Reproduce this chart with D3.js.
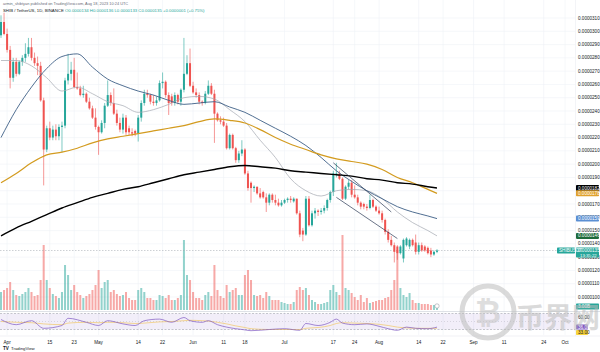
<!DOCTYPE html>
<html>
<head>
<meta charset="utf-8">
<script src="https://cdn.jsdelivr.net/npm/d3@7"></script>
<style>
  body { margin: 0; background: #fff; }
  svg { display: block; font-family: "Liberation Sans", Arial, sans-serif; }
</style>
</head>
<body>
<svg id="chart" width="600" height="352"></svg>
<script>
// daily candles, first one on 2023-03-30 (price in units of 1e-7 USDT)
const startDay = "2023-03-30";
const opens = [297,307,298,286,265,277,268,277,280,283, 288,280,276,274,248,211,227,220,226,221,
  228,229,263,268,271,258,257,252,253,247, 242,235,228,224,231,244,252,246,238,231,
  226,235,227,224,225,223,235,246,253,252, 247,246,248,261,262,252,251,246,252,247,
  256,268,276,259,254,252,247,246,253,259, 253,238,233,232,229,212,222,212,203,208,
  211,193,186,182,183,178,179,175,171,177, 173,171,169,171,173,174,172,174,163,150,
  147,174,154,163,165,164,165,167,173,179, 192,193,189,174,183,186,177,175,171,170,
  168,167,173,168,165,163,158,149,143,139, 138,133,129,139,138,143,141,134,139,138,
  137,135,132,134];
const highs = [312,314,302,289,280,280,278,282,291,295, 295,284,281,277,250,229,232,229,230,230,
  232,265,283,277,280,269,259,259,254,250, 244,242,229,233,246,263,254,257,241,235,
  238,237,229,227,226,237,248,256,256,253, 252,251,263,269,263,254,253,254,253,257,
  295,282,287,262,257,254,248,255,263,261, 256,239,236,235,231,223,223,213,210,218,
  212,195,187,184,183,182,180,178,178,178, 177,174,173,174,175,176,175,174,165,152,
  176,176,165,167,166,167,169,174,180,195, 201,195,190,184,188,188,184,177,172,171,
  170,177,174,169,168,165,159,151,146,141, 139,139,144,145,144,144,147,141,141,139,
  138,137,135,136];
const lows = [295,297,284,257,262,266,267,274,277,281, 278,274,267,247,184,209,218,218,218,218,
  209,227,260,263,257,256,251,250,246,241, 234,226,207,223,227,243,244,237,229,224,
  223,222,222,221,221,217,232,244,250,245, 244,244,247,257,250,237,244,244,245,244,
  254,267,258,253,250,245,244,245,252,252, 216,232,230,228,211,211,211,201,201,206,
  192,180,171,179,177,174,174,164,169,171, 169,168,168,170,171,171,171,162,145,142,
  146,153,153,159,161,162,163,165,171,176, 190,188,173,173,181,175,174,169,166,166,
  165,166,167,164,162,156,147,141,138,126, 128,132,126,138,136,138,132,132,134,134,
  132,130,131,133];
const closes = [307,298,286,265,277,268,277,280,283,288, 280,276,274,248,211,227,220,226,221,228,
  229,263,268,271,258,257,252,253,247,242, 235,228,224,231,244,252,246,238,231,226,
  235,224,224,223,223,235,246,253,252,247, 246,248,261,262,252,246,246,252,247,256,
  268,276,259,254,252,247,246,253,259,253, 238,233,232,229,212,222,212,203,208,211,
  193,182,182,183,178,175,175,171,177,173, 171,169,171,173,174,173,174,163,147,147,
  174,154,163,165,164,165,167,173,179,193, 193,189,174,183,186,177,175,171,168,168,
  167,173,168,165,163,158,149,143,139,134, 133,138,143,144,143,139,134,139,135,135,
  133,132,134,135];
// volume in B
const volumes = [18,20,22,28,20,15,14,16,18,22, 18,14,15,30,65,30,22,16,14,12,
  18,45,35,20,25,18,15,12,14,16, 20,25,40,22,28,30,18,20,16,14,
  15,18,12,10,10,20,22,18,12,12, 10,10,15,14,12,15,10,10,12,15,
  70,35,30,18,12,12,10,15,18,14, 45,20,14,12,25,18,20,22,15,15,
  35,40,30,15,14,15,12,18,14,10, 10,10,8,7,6,6,8,20,23,20,
  22,15,10,8,6,6,7,8,20,25, 18,15,75,22,20,17,13,10,15,8,
  12,7,8,9,10,10,12,13,20,30, 60,22,15,13,17,10,7,7,6,6,
  6,5,5,3];

// moving averages every 5 days
const maDates = ["2023-03-30","2023-04-04","2023-04-09","2023-04-14","2023-04-19","2023-04-24","2023-04-29",
  "2023-05-04","2023-05-09","2023-05-14","2023-05-19","2023-05-24","2023-05-29","2023-06-03","2023-06-08",
  "2023-06-13","2023-06-18","2023-06-23","2023-06-28","2023-07-03","2023-07-08","2023-07-13","2023-07-18",
  "2023-07-23","2023-07-28","2023-08-02","2023-08-07","2023-08-12","2023-08-17","2023-08-20"];
const ma20 = [278,278,274,265,255,258,253,247,244,239,241,245,250,251,249,241,232,218,205,189,180,176,180,181,180,174,164,156,150,146];
const ma50 = [220,241,258,272,281,283,273,264,259,255,252,248,245,246,247,243,239,233,227,221,214,205,195,187,180,174,168,164,161,159];
const ma100 = [186,193,201,207,209,212,216,219,221,223,225,227,229,232,234,233,231,226,220,215,211,207,204,202,200,196,190,186,181,178];
const ma200 = [146,152,157,162,167,171,175,178,181,183,186,189,192,194,196,198,199,198,197,195,194,193,192,191,189,188,186,185,183,182];

// descending channel drawn on the chart
const trendUpper = [["2023-07-17", 201], ["2023-08-05", 164]];
const trendLower = [["2023-07-18", 175], ["2023-08-07", 144]];

// RSI pane
const rsiDates = ["2023-03-30","2023-04-04","2023-04-09","2023-04-13","2023-04-19","2023-04-21","2023-04-27",
  "2023-05-01","2023-05-04","2023-05-09","2023-05-13","2023-05-16","2023-05-21","2023-05-25","2023-05-29",
  "2023-05-31","2023-06-04","2023-06-06","2023-06-09","2023-06-12","2023-06-15","2023-06-18","2023-06-20",
  "2023-06-26","2023-07-01","2023-07-06","2023-07-08","2023-07-12","2023-07-16","2023-07-18","2023-07-20",
  "2023-07-24","2023-07-28","2023-08-01","2023-08-04","2023-08-07","2023-08-10","2023-08-13","2023-08-17","2023-08-20"];
const rsiValues = [55,42,52,33,40,58,48,40,52,44,40,52,56,48,60,52,48,52,42,36,32,29,27,30,32,28,45,40,48,56,46,42,44,38,32,28,36,33,32,36];
const rsiMaValues = [50,48,47,44,42,46,48,47,48,47,45,46,49,50,52,53,52,51,48,44,39,35,32,30,30,30,33,35,40,45,47,46,45,43,40,36,34,33,33,33];

const priceTicks = [100,110,120,130,140,150,160,170,180,190,200,210,220,230,240,250,260,270,280,290,300,310];
const timeTicks = [["2023-04-01","Apr"],["2023-04-15","15"],["2023-04-23","23"],["2023-05-01","May"],["2023-05-14","14"],
  ["2023-05-22","22"],["2023-06-01","Jun"],["2023-06-11","11"],["2023-06-18","18"],["2023-07-01","Jul"],["2023-07-17","17"],
  ["2023-07-24","24"],["2023-08-01","Aug"],["2023-08-14","14"],["2023-08-22","22"],["2023-09-01","Sep"],["2023-09-11","11"],
  ["2023-09-24","24"],["2023-10-01","Oct"]];

const svg = d3.select("#chart");
const axisX = 575, mainBottom = 311;
const parse = d3.timeParse("%Y-%m-%d");
const day0 = parse(startDay);
const dates = closes.map((c, i) => d3.timeDay.offset(day0, i));
const x = d3.scaleTime().domain([dates[0], dates[dates.length - 1]]).range([1, 437]);
const y = d3.scaleLinear().domain([100, 310]).range([297, 18]);
const yVol = d3.scaleLinear().domain([0, 100]).range([310, 210]);
const yRsi = d3.scaleLinear().domain([30, 70]).range([329.5, 313.5]);
const fmt = v => (v * 1e-7).toFixed(7);
const up = "#26a69a", down = "#ef5350";

const defs = svg.append("defs");
defs.append("clipPath").attr("id", "clipMain").append("rect").attr("x", 0).attr("y", 0).attr("width", axisX).attr("height", mainBottom);
defs.append("clipPath").attr("id", "clipRsi").append("rect").attr("x", 0).attr("y", 312).attr("width", axisX).attr("height", 23);

// grid
svg.append("g").selectAll("line").data(priceTicks).join("line")
  .attr("x1", 0).attr("x2", axisX).attr("y1", d => y(d)).attr("y2", d => y(d))
  .attr("stroke", "#eef1f7").attr("stroke-width", 0.6);
svg.append("g").selectAll("line").data(timeTicks).join("line")
  .attr("x1", d => x(parse(d[0]))).attr("x2", d => x(parse(d[0]))).attr("y1", 0).attr("y2", 335)
  .attr("stroke", "#eef1f7").attr("stroke-width", 0.6);

const main = svg.append("g").attr("clip-path", "url(#clipMain)");

// volume
main.append("g").selectAll("rect").data(volumes).join("rect")
  .attr("x", (d, i) => x(dates[i]) - 1).attr("width", 2)
  .attr("y", d => yVol(d)).attr("height", d => yVol(0) - yVol(d))
  .attr("fill", (d, i) => closes[i] >= opens[i] ? up : down).attr("fill-opacity", 0.5);

// current price line
const last = closes.length - 1;
main.append("line").attr("x1", 0).attr("x2", axisX).attr("y1", y(closes[last])).attr("y2", y(closes[last]))
  .attr("stroke", "#9aa0a8").attr("stroke-width", 0.5).attr("stroke-dasharray", "1.5,1.5");

// candles
const candle = main.append("g").selectAll("g").data(closes).join("g");
candle.append("line")
  .attr("x1", (d, i) => x(dates[i])).attr("x2", (d, i) => x(dates[i]))
  .attr("y1", (d, i) => y(highs[i])).attr("y2", (d, i) => y(lows[i]))
  .attr("stroke", (d, i) => d >= opens[i] ? up : down).attr("stroke-width", 0.6);
candle.append("rect")
  .attr("x", (d, i) => x(dates[i]) - 1).attr("width", 2)
  .attr("y", (d, i) => y(Math.max(d, opens[i])))
  .attr("height", (d, i) => Math.max(0.8, Math.abs(y(d) - y(opens[i]))))
  .attr("fill", (d, i) => d >= opens[i] ? up : down);

// moving averages
const maLine = d3.line().x(d => x(parse(d[0]))).y(d => y(d[1])).curve(d3.curveMonotoneX);
const mas = [
  { vals: ma20, color: "#a3a7b0", w: 0.7 },
  { vals: ma50, color: "#3d5f86", w: 0.9 },
  { vals: ma100, color: "#d39b1f", w: 1.2 },
  { vals: ma200, color: "#000000", w: 1.4 }
];
mas.forEach(m => {
  main.append("path").datum(maDates.map((d, i) => [d, m.vals[i]]))
    .attr("d", maLine).attr("fill", "none").attr("stroke", m.color).attr("stroke-width", m.w);
});

// channel lines
[trendUpper, trendLower].forEach(t => {
  main.append("path").datum(t).attr("d", d3.line().x(d => x(parse(d[0]))).y(d => y(d[1])))
    .attr("stroke", "#2b3a55").attr("stroke-width", 0.7).attr("fill", "none");
});

// small icon under last bar
main.append("circle").attr("cx", x(dates[last])).attr("cy", 306).attr("r", 2.2)
  .attr("fill", "#fff").attr("stroke", "#8a8e97").attr("stroke-width", 0.5);

// pane separator
svg.append("line").attr("x1", 0).attr("x2", 600).attr("y1", mainBottom + 0.5).attr("y2", mainBottom + 0.5)
  .attr("stroke", "#d6d9e0").attr("stroke-width", 0.8);

// RSI pane
const rsiG = svg.append("g").attr("clip-path", "url(#clipRsi)");
rsiG.append("rect").attr("x", 0).attr("width", axisX).attr("y", yRsi(70)).attr("height", yRsi(30) - yRsi(70))
  .attr("fill", "#7e57c2").attr("fill-opacity", 0.1);
[70, 50, 30].forEach(v => {
  rsiG.append("line").attr("x1", 0).attr("x2", axisX).attr("y1", yRsi(v)).attr("y2", yRsi(v))
    .attr("stroke", "#787b86").attr("stroke-width", 0.45).attr("stroke-dasharray", v === 50 ? "1,2" : "2,1.5")
    .attr("stroke-opacity", v === 50 ? 0.5 : 0.9);
});
const rsiLine = d3.line().x(d => x(parse(d[0]))).y(d => yRsi(d[1])).curve(d3.curveMonotoneX);
rsiG.append("path").datum(rsiDates.map((d, i) => [d, rsiMaValues[i]])).attr("d", rsiLine)
  .attr("fill", "none").attr("stroke", "#f2c14e").attr("stroke-width", 0.6);
rsiG.append("path").datum(rsiDates.map((d, i) => [d, rsiValues[i]])).attr("d", rsiLine)
  .attr("fill", "none").attr("stroke", "#7e57c2").attr("stroke-width", 0.7);

// price axis
svg.append("line").attr("x1", axisX + 0.5).attr("x2", axisX + 0.5).attr("y1", 0).attr("y2", 336)
  .attr("stroke", "#e6e8ee").attr("stroke-width", 0.5);
svg.append("g").selectAll("text").data(priceTicks).join("text")
  .attr("x", 578).attr("y", d => y(d) + 1.6).attr("font-size", 4.6).attr("fill", "#131722").text(fmt);

function tag(yy, text, fill, color, xx, w, h) {
  svg.append("rect").attr("x", xx || 576).attr("y", yy - (h || 6) / 2).attr("width", w || 23).attr("height", h || 6)
    .attr("rx", 0.8).attr("fill", fill);
  svg.append("text").attr("x", (xx || 576) + 2).attr("y", yy + 1.6).attr("font-size", 4.6)
    .attr("fill", color || "#fff").text(text);
}
tag(y(ma200[ma200.length - 1]), fmt(ma200[ma200.length - 1]), "#000000");
tag(y(ma100[ma100.length - 1]), fmt(ma100[ma100.length - 1]), "#e0a12c");
tag(y(ma50[ma50.length - 1]), fmt(ma50[ma50.length - 1]), "#5b8fd3");
tag(y(ma20[ma20.length - 1]), fmt(ma20[ma20.length - 1]), "#1e6b3a");
// current price with countdown
const py = y(closes[last]);
svg.append("rect").attr("x", 576).attr("y", py - 3).attr("width", 23).attr("height", 10).attr("rx", 0.8).attr("fill", up);
svg.append("text").attr("x", 578).attr("y", py + 1.6).attr("font-size", 4.6).attr("fill", "#fff").text(fmt(closes[last]));
svg.append("text").attr("x", 580).attr("y", py + 6).attr("font-size", 4.3).attr("fill", "#fff").text("13:35:22");
tag(py, "SHIBUSDT", up, "#fff", 557, 18, 6);
// volume value
tag(yVol(volumes[last]) - 0.5, volumes[last].toFixed(2) + "B", up);
// RSI labels
svg.append("text").attr("x", 578).attr("y", yRsi(60) + 1.6).attr("font-size", 4.6).attr("fill", "#131722").text("60.00");
tag(yRsi(rsiValues[rsiValues.length - 1]), rsiValues[rsiValues.length - 1].toFixed(2), "#7e57c2", "#fff", 576, 12, 5);
tag(yRsi(rsiValues[rsiValues.length - 1]) + 5.5, rsiMaValues[rsiMaValues.length - 1].toFixed(2), "#f7d33a", "#131722", 576, 12, 5);

// time axis
svg.append("line").attr("x1", 0).attr("x2", 600).attr("y1", 336).attr("y2", 336).attr("stroke", "#e0e3eb").attr("stroke-width", 0.5);
svg.append("g").selectAll("text").data(timeTicks).join("text")
  .attr("x", d => x(parse(d[0]))).attr("y", 344).attr("text-anchor", "middle")
  .attr("font-size", 4.6).attr("fill", "#131722").text(d => d[1]);

// header
svg.append("text").attr("x", 3).attr("y", 5).attr("font-size", 3.9).attr("fill", "#6a6d78")
  .text("armin_shibtyan published on TradingView.com, Aug 18, 2023 10:24 UTC");
const hdr = svg.append("text").attr("x", 3).attr("y", 12).attr("font-size", 4.3).attr("fill", "#131722");
hdr.append("tspan").text("SHIB / TetherUS, 1D, BINANCE ");
const chg = closes[last] - closes[last - 1];
hdr.append("tspan").attr("fill", up)
  .text(` O${fmt(opens[last])} H${fmt(highs[last])} L${fmt(lows[last])} C${fmt(closes[last])} +${fmt(chg)} (+${(chg / closes[last - 1] * 100).toFixed(2)}%)`);

// TradingView mark
svg.append("text").attr("x", 3).attr("y", 350).attr("font-size", 4.6).attr("font-weight", "bold").attr("fill", "#131722").text("TV");
svg.append("text").attr("x", 11).attr("y", 350).attr("font-size", 4.3).attr("fill", "#131722").text("TradingView");

// site watermark
const wm = svg.append("g").attr("opacity", 0.55);
wm.append("circle").attr("cx", 488).attr("cy", 312).attr("r", 26).attr("fill", "none").attr("stroke", "#bdbdbd").attr("stroke-width", 5);
wm.append("text").attr("x", 488).attr("y", 323).attr("text-anchor", "middle").attr("font-size", 32)
  .attr("font-weight", "bold").attr("fill", "#c4c4c4").text("₿");
wm.append("text").attr("x", 516).attr("y", 328).attr("font-size", 28).attr("font-weight", "bold")
  .attr("font-family", "'Noto Sans CJK SC'").attr("fill", "#bdbdbd").text("币界网");
</script>
</body>
</html>
